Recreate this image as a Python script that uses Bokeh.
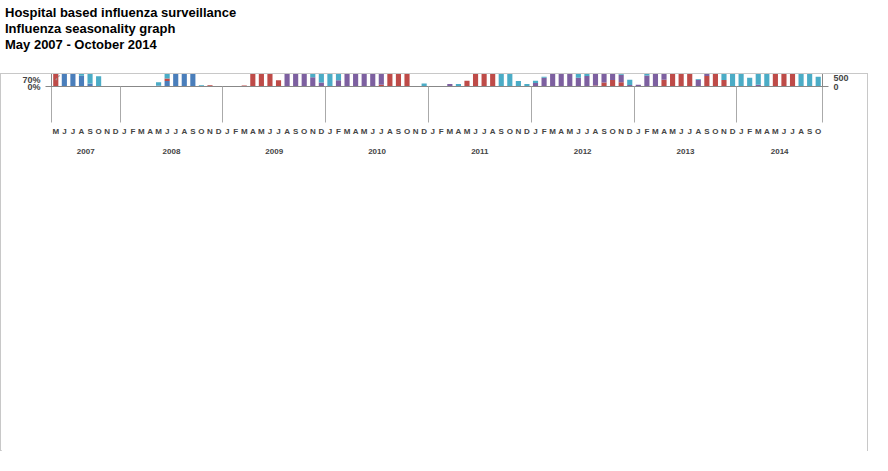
from bokeh.plotting import figure
from bokeh.models import (Range1d, LinearAxis, FixedTicker, NumeralTickFormatter, Legend,
                          LegendItem, ColumnDataSource, Div)
from bokeh.layouts import column
from bokeh.embed import file_html
from bokeh.resources import INLINE

years = ["2007", "2008", "2009", "2010", "2011", "2012", "2013", "2014"]
month_letters = (["M", "J", "J", "A", "S", "O", "N", "D"] +
                 ["J", "F", "M", "A", "M", "J", "J", "A", "S", "O", "N", "D"] * 6 +
                 ["J", "F", "M", "A", "M", "J", "J", "A", "S", "O"])
months_per_year = [8, 12, 12, 12, 12, 12, 12, 10]

# percent values, May 2007 .. Oct 2014
h1 = [0, 9.5, 28.5, 3.5, 1, 0, 0, 0,
      0, 0, 0, 0, 0.3, 1.8, 16.3, 23, 4.3, 0, 0, 0,
      0, 0, 0, 0, 0, 0, 0, 0, 0, 0, 0, 0,
      0, 0, 0, 0, 0, 0, 0, 0, 0, 0, 0, 0,
      0, 0, 0, 0, 0, 0, 0, 0, 0, 0, 0, 0,
      0, 0, 0, 0, 0, 0, 0, 0, 0, 0, 0, 0,
      0, 0, 0, 0, 0, 0, 0, 0, 0, 0, 0, 0,
      0, 0, 0, 0, 0, 0, 0, 0, 0, 0]
h3 = [13, 38.5, 12, 0, 0, 0, 0, 0,
      0, 0, 0, 0, 0, 0.8, 6, 6, 3.2, 0, 0.4, 0,
      0, 0, 0.3, 18.3, 57, 11.5, 2, 0, 0, 0, 0, 0,
      0, 0, 0, 0, 0, 0, 0.6, 8.8, 18.8, 4.6, 0, 0,
      0, 0, 0, 0, 1.9, 30, 30.8, 4.6, 0, 0, 0, 0,
      0, 0, 0, 0, 0, 0, 0, 0.3, 1.3, 2.1, 1.4, 0,
      0, 0, 0, 2.2, 25.7, 53.2, 12.7, 0, 3.4, 7.2, 2.1, 0,
      0, 0, 0, 0, 5.4, 42.9, 20.4, 0, 0, 0]
h5 = [0] * 90
pdm = [0, 0, 0, 0, 0, 0, 0, 0,
       0, 0, 0, 0, 0, 0, 0, 0, 0, 0, 0, 0,
       0, 0, 0, 0, 0, 0, 0, 9, 32.7, 15.5, 3, 1.3,
       0, 2, 4.6, 11.8, 9, 9.4, 13.2, 11.5, 2.4, 1, 0, 0,
       0, 0, 0.8, 0, 0, 0.8, 0, 1.2, 0, 0, 0, 0,
       1.1, 2.8, 23.2, 23.4, 14.6, 2.8, 3.4, 6.5, 8.7, 5.3, 2.4, 0.5,
       0.6, 3.6, 8.2, 12.2, 7.4, 9.1, 6.4, 2.2, 1.3, 0, 0, 0,
       0, 0, 0.6, 0, 0, 0.3, 0, 0, 0, 0]
infb = [0, 16.5, 5.5, 26.5, 15, 3.3, 0, 0,
        0, 0, 0, 0, 1.1, 7, 22.7, 14, 10.7, 0.4, 0, 0,
        0, 0, 0, 0, 0, 0.6, 0, 0.5, 0, 1.5, 2, 5,
        5, 4.7, 5, 7, 10.8, 15.1, 19, 5, 5.2, 1.8, 0, 1,
        0, 0, 0, 0.8, 0, 1, 11.1, 21.1, 16.8, 5.3, 1.8, 0.8,
        0.8, 0.4, 0.8, 0, 0.6, 2, 5.8, 17.8, 19.8, 13.3, 4.4, 1.7,
        0, 0.5, 0, 0, 0, 0, 1.3, 0.2, 0.9, 7, 9.7, 7.1,
        4.3, 2.8, 4.4, 6.2, 4.7, 14.3, 25.1, 25, 7.4, 3.2]
samples = [15, 40, 80, 100, 170, 210, 235, 228,
           197, 235, 215, 225, 215, 215, 235, 225, 228, 228, 225, 213,
           213, 225, 230, 250, 271, 253, 253, 300, 335, 368, 289, 289,
           286, 358, 372, 352, 300, 321, 338, 344, 275, 183, 160, 166,
           160, 178, 192, 192, 198, 375, 387, 375, 340, 300, 265, 261,
           300, 330, 398, 380, 355, 320, 318, 318, 437, 360, 300, 255,
           258, 265, 292, 290, 283, 340, 260, 205, 257, 245, 253, 220,
           298, 305, 348, 312, 322, 435, 300, 312, 320, 265]

FONT = "Liberation Sans"
n = len(month_letters)
x = list(range(n))
src = ColumnDataSource(dict(
    x=x,
    h1=[v / 100 for v in h1], h3=[v / 100 for v in h3], h5=[v / 100 for v in h5],
    pdm=[v / 100 for v in pdm], infb=[v / 100 for v in infb], samples=samples))

p = figure(width=868, height=378, output_backend="svg", toolbar_location=None,
           x_range=Range1d(-0.5, n - 0.5), y_range=Range1d(0, 0.7),
           min_border_left=20, min_border_right=20, min_border_top=12, min_border_bottom=6)
p.extra_y_ranges = {"n": Range1d(0, 500)}
p.xgrid.visible = False
p.ygrid.visible = False
p.outline_line_color = None
p.styles = {"border": "1px solid #c8c8c8"}

colors = ["#4A7EBB", "#BE4B48", "#98B954", "#7D60A0", "#4BACC6"]
names = ["Influenza A/H1", "Influenza A/H3", "Influenza A/H5", "A(H1N1)pdm09", "Influenza B"]
rs = p.vbar_stack(["h1", "h3", "h5", "pdm", "infb"], x="x", width=0.6, color=colors,
                  line_color=None, source=src)
lr = p.line("x", "samples", source=src, y_range_name="n", line_color="#9a9a9a",
            line_dash="2 2", line_width=1.2)

def style(ax):
    ax.axis_label_text_font = FONT
    ax.axis_label_text_font_style = "bold"
    ax.axis_label_text_font_size = "9px"
    ax.major_label_text_font = FONT
    ax.major_label_text_font_size = "9px"
    ax.major_label_text_font_style = "bold"
    ax.axis_line_color = "#888888"
    ax.major_tick_line_color = "#888888"
    ax.minor_tick_line_color = None

ya = p.yaxis[0]
ya.ticker = FixedTicker(ticks=[i / 10 for i in range(8)])
ya.formatter = NumeralTickFormatter(format="0%")
ya.axis_label = "Proportion of rRT-PCR confirmed influenza"
style(ya)

ra = LinearAxis(y_range_name="n", ticker=FixedTicker(ticks=list(range(0, 501, 50))),
                axis_label="Number of samples tested")
style(ra)
p.add_layout(ra, "right")

# month axis, with year separators as minor ticks
bounds = [-0.5]
centers = []
for k in months_per_year:
    centers.append(bounds[-1] + k / 2)
    bounds.append(bounds[-1] + k)

xa = p.xaxis[0]
xa.ticker = FixedTicker(ticks=x, minor_ticks=bounds)
xa.major_label_overrides = {i: m for i, m in enumerate(month_letters)}
xa.major_label_text_font = FONT
xa.major_label_text_font_size = "8px"
xa.major_label_text_font_style = "bold"
xa.major_tick_line_color = None
xa.minor_tick_line_color = "#aaaaaa"
xa.minor_tick_out = 36
xa.minor_tick_in = 0
xa.axis_line_color = "#888888"
xa.major_label_standoff = 4

yl = LinearAxis(ticker=FixedTicker(ticks=centers),
                major_label_overrides={c: y for c, y in zip(centers, years)},
                major_tick_line_color=None, minor_tick_line_color=None, axis_line_color=None,
                major_label_text_font=FONT, major_label_text_font_size="8px",
                major_label_text_font_style="bold", major_label_standoff=4)
p.add_layout(yl, "below")

items = [LegendItem(label=nm, renderers=[r]) for nm, r in zip(names, rs)]
items.append(LegendItem(label="Number of samples tested", renderers=[lr]))
leg = Legend(items=items, orientation="horizontal", label_text_font=FONT,
             label_text_font_size="9px", label_text_font_style="bold",
             border_line_color=None, spacing=26, glyph_width=26, glyph_height=9,
             label_height=9, padding=2, margin=6)
p.add_layout(leg, "below")

title = Div(text="<div style='font-family:Liberation Sans, Arial;font-weight:bold;"
                 "font-size:13px;line-height:16px;color:#000'>Hospital based influenza surveillance<br>"
                 "Influenza seasonality graph<br>May 2007 - October 2014</div>",
            width=500, height=60, styles={"margin-bottom": "8px"})

page = column(title, p)
open("out.html", "w").write(file_html(page, INLINE))
